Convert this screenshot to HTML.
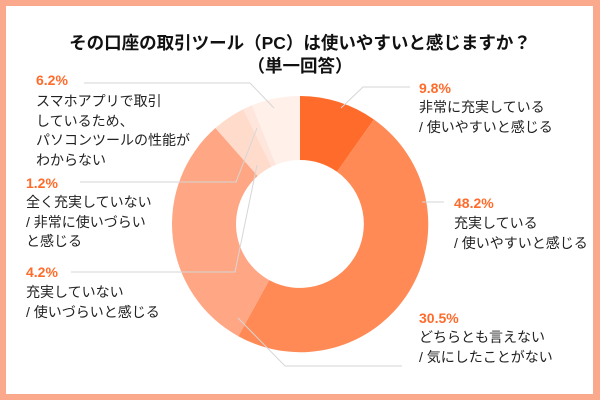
<!DOCTYPE html>
<html><head><meta charset="utf-8"><style>
html,body{margin:0;padding:0}
body{width:600px;height:400px;overflow:hidden;background:#fff;position:relative;font-family:"Liberation Sans","Noto Sans CJK JP",sans-serif}
.frame{position:absolute;left:0;top:0;width:600px;height:400px;box-sizing:border-box;border:6px solid #FBA98C;border-right-width:7px}
.t{position:absolute;white-space:nowrap;color:#222;font-size:14px;line-height:19.5px}
.p{position:absolute;color:#FF6B2B;font-weight:bold;font-size:14px;line-height:16px}
.title{position:absolute;left:0;width:600px;text-align:center;font-weight:bold;font-size:17.5px;color:#111;line-height:23px}
</style></head><body>
<div class="frame"></div>
<div class="title" style="top:32px">その口座の取引ツール（PC）は使いやすいと感じますか？</div>
<div class="title" style="top:55px">（単一回答）</div>
<svg width="600" height="400" style="position:absolute;left:0;top:0">
<path d="M300,96 A128,128 0 0 1 373.9,119.5 L337,171.8 A64,64 0 0 0 300,160Z" fill="#FF6B2B"/>
<path d="M373.9,119.5 A128,128 0 0 1 238.3,336.2 L269.2,280.1 A64,64 0 0 0 337,171.8Z" fill="#FF8A55"/>
<path d="M238.3,336.2 A128,128 0 0 1 215.4,128 L257.7,176 A64,64 0 0 0 269.2,280.1Z" fill="#FFA784"/>
<path d="M215.4,128 A128,128 0 0 1 243.3,109.2 L271.6,166.6 A64,64 0 0 0 257.7,176Z" fill="#FFDBCC"/>
<path d="M243.3,109.2 A128,128 0 0 1 252.1,105.3 L276,164.7 A64,64 0 0 0 271.6,166.6Z" fill="#FFE6DC"/>
<path d="M252.1,105.3 A128,128 0 0 1 300,96 L300,160 A64,64 0 0 0 276,164.7Z" fill="#FFF0EA"/>
<g fill="none" stroke="#d6d6d6" stroke-width="1">
<polyline points="341,108 363,87 410,87"/>
<polyline points="422,202 444,202"/>
<polyline points="238,318 285,366 402,366"/>
<polyline points="274,108 250,83 84,83"/>
<polyline points="257,128 236,182 80,182"/>
<polyline points="257,165 235,272 71,272"/>
</g>
</svg>
<div class="p" style="left:36px;top:72px">6.2%</div>
<div class="t" style="left:36px;top:92px">スマホアプリで取引<br>しているため、<br>パソコンツールの性能が<br>わからない</div>
<div class="p" style="left:26px;top:175px">1.2%</div>
<div class="t" style="left:26px;top:193px">全く充実していない<br>/ 非常に使いづらい<br>と感じる</div>
<div class="p" style="left:26px;top:264px">4.2%</div>
<div class="t" style="left:26px;top:283px">充実していない<br>/ 使いづらいと感じる</div>
<div class="p" style="left:419px;top:80px">9.8%</div>
<div class="t" style="left:419px;top:98px">非常に充実している<br>/ 使いやすいと感じる</div>
<div class="p" style="left:454px;top:195px">48.2%</div>
<div class="t" style="left:454px;top:214px">充実している<br>/ 使いやすいと感じる</div>
<div class="p" style="left:419px;top:310px">30.5%</div>
<div class="t" style="left:419px;top:328px">どちらとも言えない<br>/ 気にしたことがない</div>
</body></html>
